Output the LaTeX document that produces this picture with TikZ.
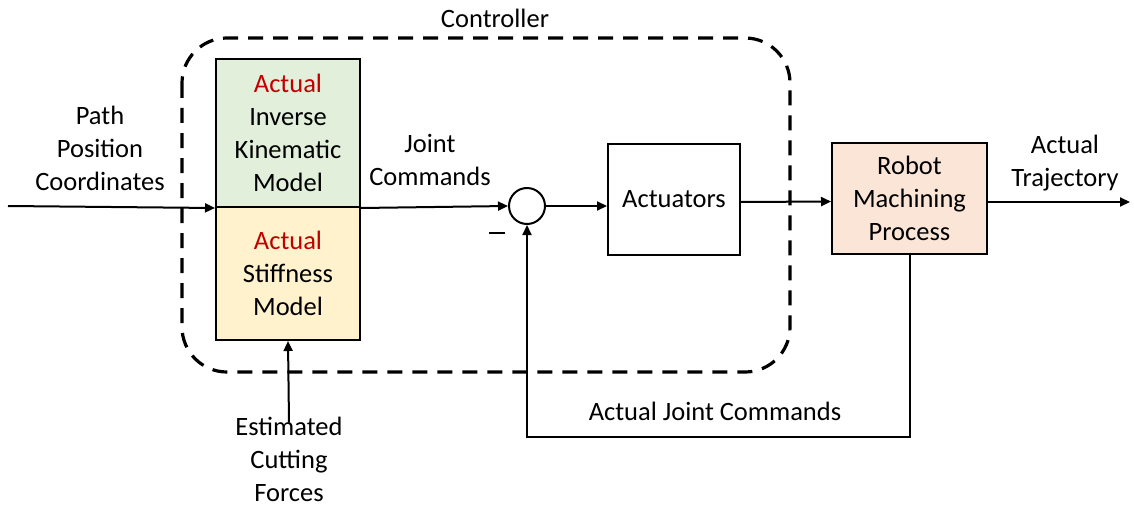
\documentclass[tikz,border=0pt]{standalone}
\usepackage{fontspec}
\setmainfont{Carlito}
\usetikzlibrary{arrows.meta}
\definecolor{ikgreen}{HTML}{E2EFDA}
\definecolor{styellow}{HTML}{FFF2CC}
\definecolor{procpeach}{HTML}{FBE5D6}
\definecolor{actred}{HTML}{C00000}
\begin{document}
\begin{tikzpicture}[x=1pt,y=-1pt,
  font=\fontsize{26.5}{33}\selectfont,
  block/.style={draw=black,line width=2pt,align=center,inner sep=0pt},
  lbl/.style={align=center,inner sep=0pt},
  arr/.style={line width=2pt,-{Triangle[length=10pt,width=9pt]}},
  ctrlbox/.style={draw=black,line width=3.2pt,dash pattern=on 15pt off 10pt,rounded corners=45pt}]
\useasboundingbox (0,0) rectangle (1134,508);

% controller boundary
\draw[ctrlbox] (182,38) rectangle (790,372);
\node[lbl] (ctrl) at (495,18) {Controller};

% model blocks
\node[block,fill=ikgreen,minimum width=144pt,minimum height=148pt] (ik) at (288,133)
  {\textcolor{actred}{Actual}\\Inverse\\Kinematic\\Model};
\node[block,fill=styellow,minimum width=144pt,minimum height=133pt] (st) at (288,273.5)
  {\textcolor{actred}{Actual}\\Stiffness\\Model};

% summing junction, actuators and process
\node[draw=black,line width=2pt,circle,minimum size=36pt,inner sep=0pt] (sum) at (527,206) {};
\node[lbl] (minus) at (497,233) {\rule{16pt}{2.2pt}};
\node[block,minimum width=132pt,minimum height=111pt] (act) at (674,199) {Actuators};
\node[block,fill=procpeach,minimum width=155pt,minimum height=111pt] (robot) at (909.5,198.5)
  {Robot\\Machining\\Process};

% labels
\node[lbl] (path) at (100,148) {Path\\Position\\Coordinates};
\node[lbl] (jc) at (430,160) {Joint\\Commands};
\node[lbl] (traj) at (1065,163) {Actual\\Trajectory};
\node[lbl] (ajc) at (715,411) {Actual Joint Commands};
\node[lbl] (est) at (289,459) {Estimated\\Cutting\\Forces};

% signal flow
\coordinate (pin) at (8,206);
\coordinate (pout) at (1130,202);
\draw[arr] (pin) -- (ik.south west);
\draw[arr] (ik.south east) -- (sum.west);
\draw[arr] (sum.east) -- (act.west |- sum.east);
\draw[arr] ([yshift=-3pt]act.east) -- ([yshift=-3pt]robot.west);
\draw[arr] (robot.east |- pout) -- (pout);
\draw[arr] ([yshift=-6pt]est.north) -- (st.south);
\draw[arr] (robot.south) |- (sum.south |- 0,437) -- (sum.south);
\end{tikzpicture}
\end{document}
